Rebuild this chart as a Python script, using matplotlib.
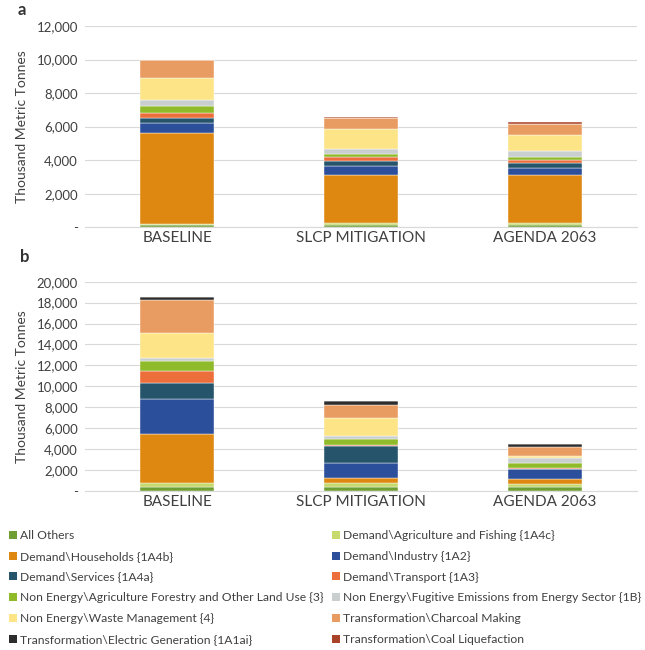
import matplotlib
matplotlib.use("Agg")
import matplotlib.pyplot as plt
import matplotlib.ticker as ticker
from matplotlib.patches import Patch

plt.rcParams['font.family'] = ['Lato', 'DejaVu Sans']

scenarios = ['BASELINE', 'SLCP MITIGATION', 'AGENDA 2063']

series = ['All Others',
          'Demand\\Agriculture and Fishing {1A4c}',
          'Demand\\Households {1A4b}',
          'Demand\\Industry {1A2}',
          'Demand\\Services {1A4a}',
          'Demand\\Transport {1A3}',
          'Non Energy\\Agriculture Forestry and Other Land Use {3}',
          'Non Energy\\Fugitive Emissions from Energy Sector {1B}',
          'Non Energy\\Waste Management {4}',
          'Transformation\\Charcoal Making',
          'Transformation\\Electric Generation {1A1ai}',
          'Transformation\\Coal Liquefaction']

colors = ['#6f9f33', '#c6d96c', '#df8811', '#2c4f9b', '#25546b', '#eb6e3b',
          '#8fba2a', '#c9cfcf', '#fde487', '#e99c61', '#2d2d2d', '#a8432a']

# panel a (thousand metric tonnes)
a_all_others = [130, 150, 160]
a_ag_fishing = [60, 100, 80]
a_households = [5450, 2880, 2900]
a_industry = [600, 540, 400]
a_services = [300, 300, 280]
a_transport = [260, 200, 180]
a_afolu = [450, 180, 220]
a_fugitive = [340, 340, 300]
a_waste = [1300, 1170, 1010]
a_charcoal = [1060, 640, 620]
a_electric = [0, 0, 0]
a_coal_liq = [40, 80, 100]

# panel b (thousand metric tonnes)
b_all_others = [350, 380, 380]
b_ag_fishing = [360, 360, 260]
b_households = [4740, 450, 510]
b_industry = [3300, 1430, 930]
b_services = [1590, 1660, 30]
b_transport = [1090, 50, 60]
b_afolu = [990, 600, 510]
b_fugitive = [320, 350, 410]
b_waste = [2330, 1700, 260]
b_charcoal = [3190, 1200, 860]
b_electric = [320, 380, 290]
b_coal_liq = [0, 0, 0]

panel_a = [a_all_others, a_ag_fishing, a_households, a_industry, a_services, a_transport,
           a_afolu, a_fugitive, a_waste, a_charcoal, a_electric, a_coal_liq]
panel_b = [b_all_others, b_ag_fishing, b_households, b_industry, b_services, b_transport,
           b_afolu, b_fugitive, b_waste, b_charcoal, b_electric, b_coal_liq]

txt = '#404040'


def fmt(v, pos):
    return '-' if v == 0 else f'{int(v):,}'


def stacked(ax, data, ymax, step):
    x = range(len(scenarios))
    bottom = [0] * len(scenarios)
    for vals, c in zip(data, colors):
        ax.bar(x, vals, 0.4, bottom=bottom, color=c, edgecolor='white', linewidth=0.3, zorder=3)
        bottom = [b + v for b, v in zip(bottom, vals)]
    ax.set_xlim(-0.5, 2.5)
    ax.set_ylim(0, ymax)
    ax.yaxis.set_major_locator(ticker.MultipleLocator(step))
    ax.yaxis.set_major_formatter(ticker.FuncFormatter(fmt))
    ax.set_xticks(list(x))
    ax.set_xticklabels(scenarios, fontsize=11, color=txt)
    ax.tick_params(axis='y', labelsize=9.5, labelcolor=txt, length=0, pad=5)
    ax.tick_params(axis='x', length=0, pad=3)
    ax.grid(axis='y', color='#d9d9d9', linewidth=0.8, zorder=0)
    for s in ['top', 'right', 'left']:
        ax.spines[s].set_visible(False)
    ax.spines['bottom'].set_color('#d9d9d9')
    ax.set_ylabel('Thousand Metric Tonnes', fontsize=10, color=txt, labelpad=6)


fig = plt.figure(figsize=(6.45, 6.5), dpi=100)
ax1 = fig.add_axes([0.1318, 0.6503, 0.856, 0.3097])
ax2 = fig.add_axes([0.1318, 0.2451, 0.856, 0.3215])
stacked(ax1, panel_a, 12000, 2000)
stacked(ax2, panel_b, 20000, 2000)

fig.text(18 / 645, 1 - 10 / 650, 'a', fontsize=12, fontweight='bold', color='#333333', va='center')
fig.text(20 / 645, 1 - 257 / 650, 'b', fontsize=12, fontweight='bold', color='#333333', va='center')

handles = [Patch(facecolor=c, label=s) for s, c in zip(series, colors)]
left = handles[0::2]
right = handles[1::2]
for hs, xpos in [(left, 9 / 645), (right, 332 / 645)]:
    leg = fig.legend(handles=hs, loc='upper left', bbox_to_anchor=(xpos, 1 - 530 / 650),
                     frameon=False, fontsize=8.7, handlelength=0.65, handleheight=0.65,
                     handletextpad=0.3, labelspacing=0.81, borderaxespad=0, borderpad=0)
    for t in leg.get_texts():
        t.set_color(txt)

fig.savefig('out.png', dpi=100)
